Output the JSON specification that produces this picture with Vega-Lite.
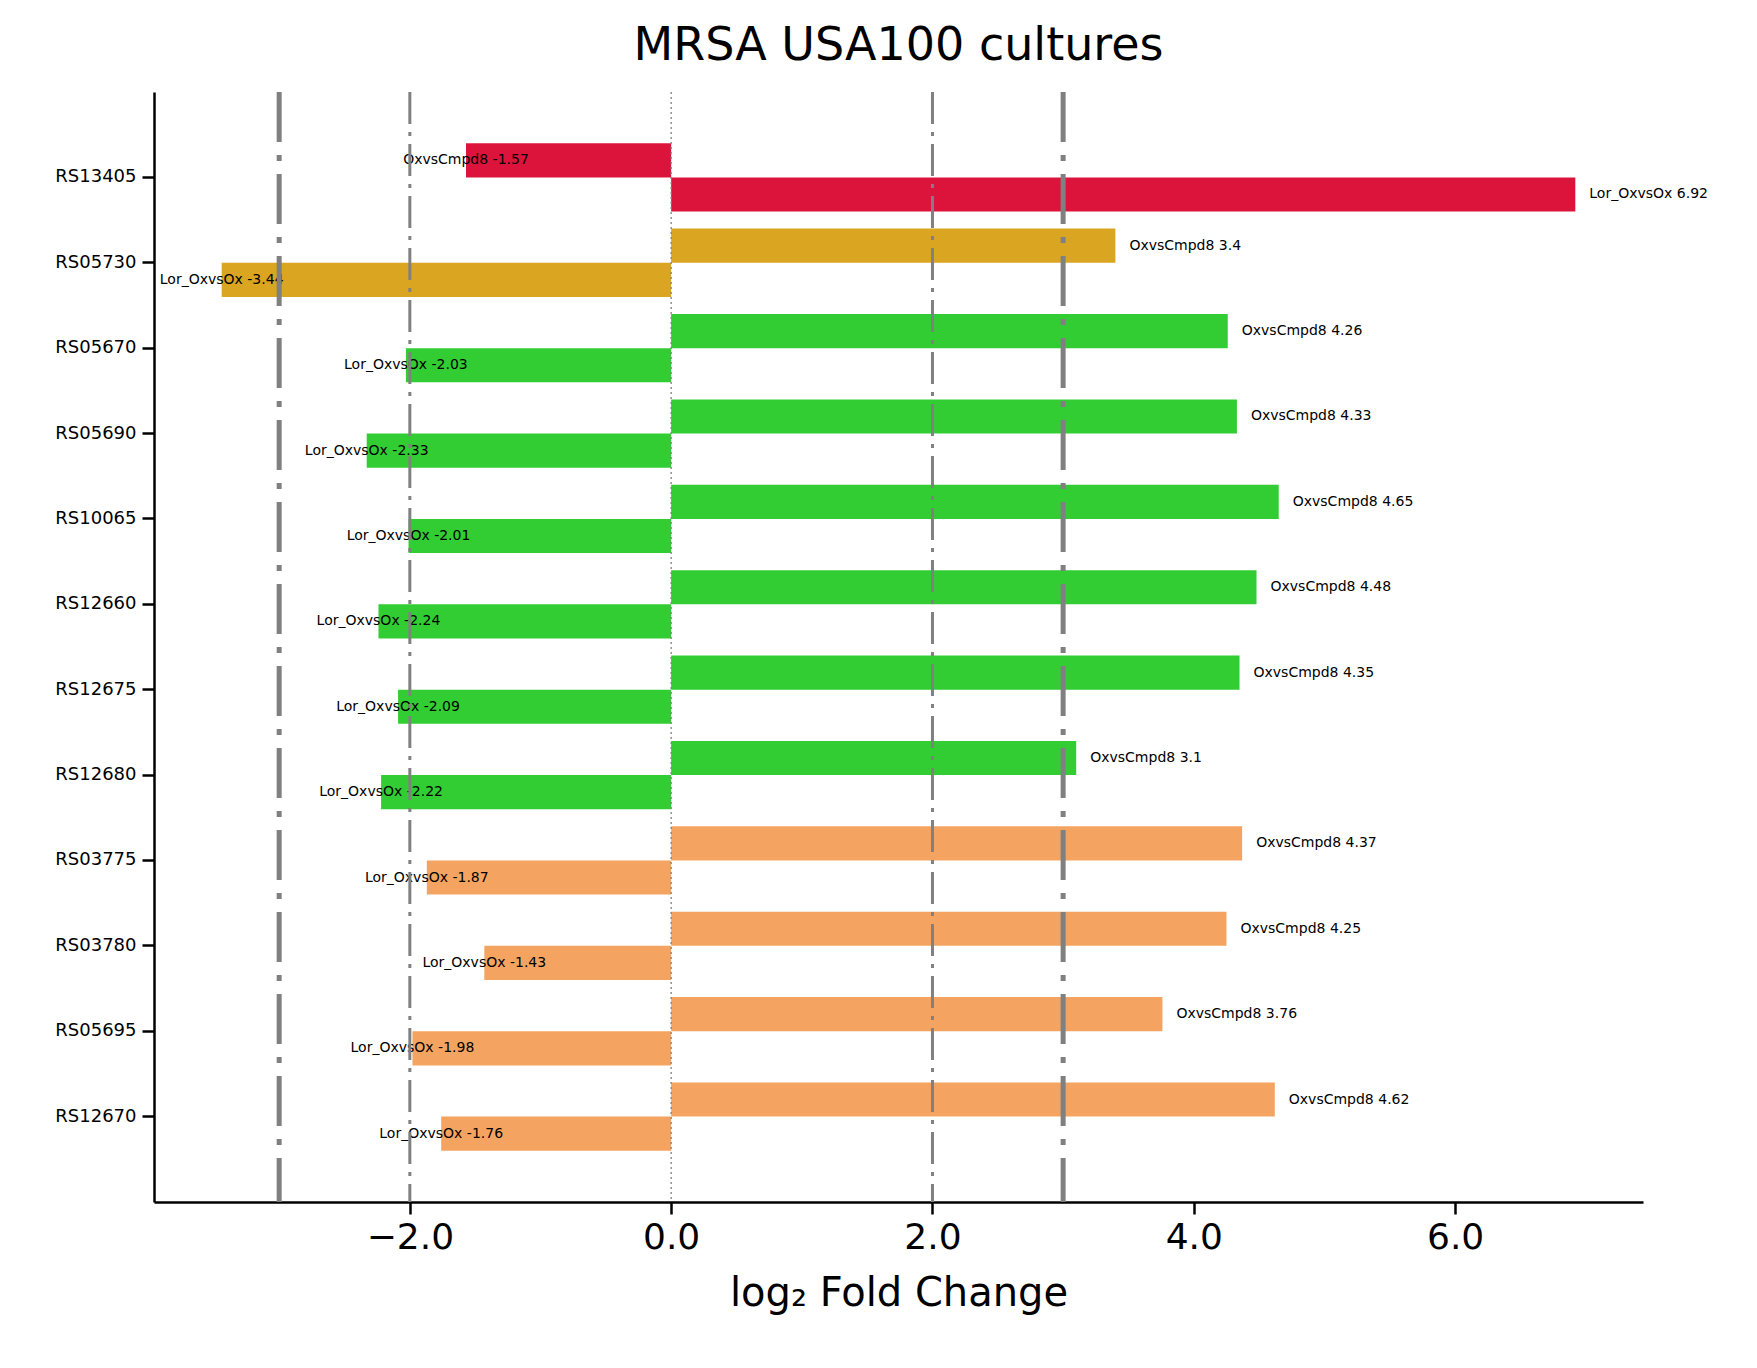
{
"$schema":"https://vega.github.io/schema/vega-lite/v6.json",
"width":1489,"height":1110,
"autosize":{"type":"none"},
"padding":{"left":154,"top":92,"right":114,"bottom":166},
"background":"white",
"config":{"font":"DejaVu Sans","view":{"stroke":null}},
"title":{"text":"MRSA USA100 cultures","fontSize":46,"fontWeight":"normal","color":"black","offset":20,"font":"DejaVu Sans"},
"data":{"values":[
{"gene":"RS13405","cmp":"OxvsCmpd8","v":-1.57,"g":"a"},
{"gene":"RS13405","cmp":"Lor_OxvsOx","v":6.92,"g":"a"},
{"gene":"RS05730","cmp":"OxvsCmpd8","v":3.4,"g":"b"},
{"gene":"RS05730","cmp":"Lor_OxvsOx","v":-3.44,"g":"b"},
{"gene":"RS05670","cmp":"OxvsCmpd8","v":4.26,"g":"c"},
{"gene":"RS05670","cmp":"Lor_OxvsOx","v":-2.03,"g":"c"},
{"gene":"RS05690","cmp":"OxvsCmpd8","v":4.33,"g":"c"},
{"gene":"RS05690","cmp":"Lor_OxvsOx","v":-2.33,"g":"c"},
{"gene":"RS10065","cmp":"OxvsCmpd8","v":4.65,"g":"c"},
{"gene":"RS10065","cmp":"Lor_OxvsOx","v":-2.01,"g":"c"},
{"gene":"RS12660","cmp":"OxvsCmpd8","v":4.48,"g":"c"},
{"gene":"RS12660","cmp":"Lor_OxvsOx","v":-2.24,"g":"c"},
{"gene":"RS12675","cmp":"OxvsCmpd8","v":4.35,"g":"c"},
{"gene":"RS12675","cmp":"Lor_OxvsOx","v":-2.09,"g":"c"},
{"gene":"RS12680","cmp":"OxvsCmpd8","v":3.1,"g":"c"},
{"gene":"RS12680","cmp":"Lor_OxvsOx","v":-2.22,"g":"c"},
{"gene":"RS03775","cmp":"OxvsCmpd8","v":4.37,"g":"d"},
{"gene":"RS03775","cmp":"Lor_OxvsOx","v":-1.87,"g":"d"},
{"gene":"RS03780","cmp":"OxvsCmpd8","v":4.25,"g":"d"},
{"gene":"RS03780","cmp":"Lor_OxvsOx","v":-1.43,"g":"d"},
{"gene":"RS05695","cmp":"OxvsCmpd8","v":3.76,"g":"d"},
{"gene":"RS05695","cmp":"Lor_OxvsOx","v":-1.98,"g":"d"},
{"gene":"RS12670","cmp":"OxvsCmpd8","v":4.62,"g":"d"},
{"gene":"RS12670","cmp":"Lor_OxvsOx","v":-1.76,"g":"d"}
]},
"encoding":{
"y":{"field":"gene","type":"nominal","sort":null,"scale":{"paddingInner":0.2,"paddingOuter":0.6},
 "axis":{"title":null,"labelFontSize":18,"labelColor":"black","domainColor":"black","domainWidth":2.5,"tickColor":"black","tickWidth":2.5,"tickSize":12,"labelPadding":6}},
"yOffset":{"field":"cmp","type":"nominal","sort":["OxvsCmpd8","Lor_OxvsOx"],"scale":{"paddingInner":0,"paddingOuter":0}}
},
"layer":[
{"mark":{"type":"bar","cornerRadius":0},
 "encoding":{
  "x":{"field":"v","type":"quantitative","scale":{"domain":[-3.958,7.438],"nice":false,"zero":false},
   "axis":{"values":[-2,0,2,4,6],"grid":false,"title":"log₂ Fold Change","titleFontSize":40,"titleFontWeight":"normal","titleColor":"black","titlePadding":18,"labelFontSize":36,"labelColor":"black","domainColor":"black","domainWidth":2.5,"tickColor":"black","tickWidth":2.5,"tickSize":12,"labelPadding":6}},
  "color":{"field":"g","type":"nominal","legend":null,"scale":{"domain":["a","b","c","d"],"range":["#DC143C","#DAA520","#32CD32","#F4A460"]}}
 }},
{"transform":[{"filter":"datum.v >= 0"},{"calculate":"datum.cmp + ' ' + datum.v","as":"lab"}],
 "mark":{"type":"text","align":"left","baseline":"middle","dx":14,"fontSize":14,"color":"black"},
 "encoding":{"x":{"field":"v","type":"quantitative"},"text":{"field":"lab"}}},
{"transform":[{"filter":"datum.v < 0"},{"calculate":"datum.cmp + ' ' + datum.v","as":"lab"}],
 "mark":{"type":"text","align":"center","baseline":"middle","fontSize":14,"color":"black"},
 "encoding":{"x":{"field":"v","type":"quantitative"},"text":{"field":"lab"}}},
{"data":{"values":[{"x":-3},{"x":3}]},
 "mark":{"type":"rule","color":"gray","strokeWidth":5,"strokeDash":[50,13,6,13]},
 "encoding":{"x":{"field":"x","type":"quantitative"},"y":null,"yOffset":null}},
{"data":{"values":[{"x":-2},{"x":2}]},
 "mark":{"type":"rule","color":"gray","strokeWidth":3,"strokeDash":[32,8,4,8]},
 "encoding":{"x":{"field":"x","type":"quantitative"},"y":null,"yOffset":null}},
{"data":{"values":[{"x":0}]},
 "mark":{"type":"rule","color":"gray","strokeWidth":1.3,"strokeDash":[2,3]},
 "encoding":{"x":{"field":"x","type":"quantitative"},"y":null,"yOffset":null}}
]
}
